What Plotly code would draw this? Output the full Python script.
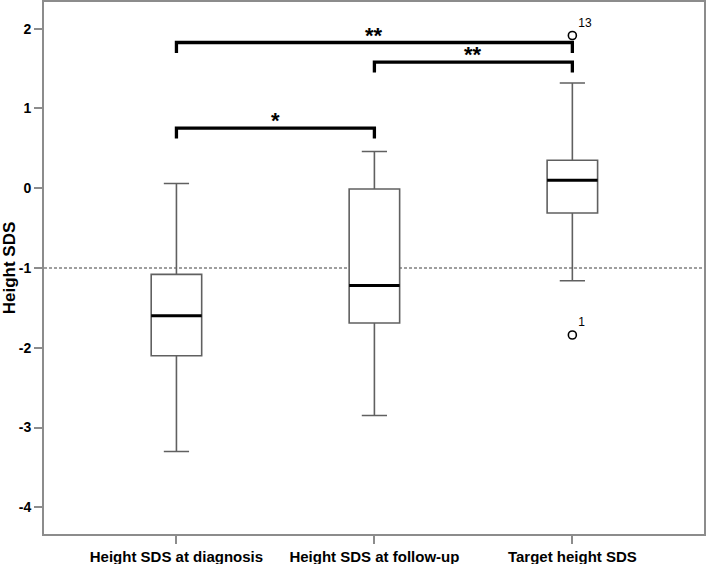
import plotly.graph_objects as go

categories = ["Height SDS at diagnosis", "Height SDS at follow-up", "Target height SDS"]
lower_whisker = [-3.30, -2.85, -1.16]
q1 = [-2.10, -1.69, -0.31]
median = [-1.60, -1.22, 0.10]
q3 = [-1.08, -0.01, 0.35]
upper_whisker = [0.06, 0.46, 1.32]

outlier_cat = [2, 2]
outlier_val = [1.915, -1.84]
outlier_lab = ["13", "1"]

ref_line = -1
bracket_from = [0, 0, 1]
bracket_to = [1, 2, 2]
bracket_y = [0.753, 1.827, 1.58]
bracket_lab = ["*", "**", "**"]

y_ticks = [2, 1, 0, -1, -2, -3, -4]

BOXW = 0.255
DROP = 0.13
FONT = "Liberation Sans, Arial, sans-serif"

fig = go.Figure()

for i in range(len(categories)):
    fig.add_trace(go.Box(
        x=[i], q1=[q1[i]], median=[median[i]], q3=[q3[i]],
        lowerfence=[lower_whisker[i]], upperfence=[upper_whisker[i]],
        width=BOXW, whiskerwidth=0.5, fillcolor="white",
        line=dict(color="#606060", width=1.6), boxpoints=False,
        showlegend=False, hoverinfo="skip"))

# medians drawn thicker and black
mx, my = [], []
for i in range(len(categories)):
    mx += [i - BOXW / 2, i + BOXW / 2, None]
    my += [median[i], median[i], None]
fig.add_trace(go.Scatter(x=mx, y=my, mode="lines",
                         line=dict(color="black", width=3), showlegend=False, hoverinfo="skip"))

# outliers
fig.add_trace(go.Scatter(x=outlier_cat, y=outlier_val, mode="markers+text",
                         marker=dict(symbol="circle-open", size=8, color="black", line=dict(width=1.6)),
                         text=outlier_lab, textposition="top right",
                         textfont=dict(family=FONT, size=12, color="#000000"),
                         showlegend=False, hoverinfo="skip"))

# significance brackets
bx, by = [], []
for a, b, yv in zip(bracket_from, bracket_to, bracket_y):
    bx += [a, a, b, b, None]
    by += [yv - DROP, yv, yv, yv - DROP, None]
fig.add_trace(go.Scatter(x=bx, y=by, mode="lines",
                         line=dict(color="black", width=3.3), showlegend=False, hoverinfo="skip"))
for a, b, yv, lab in zip(bracket_from, bracket_to, bracket_y, bracket_lab):
    fig.add_annotation(x=(a + b) / 2, y=yv, text="<b>%s</b>" % lab, showarrow=False,
                       yanchor="bottom", yshift=-7,
                       font=dict(family=FONT, size=22, color="black"))

fig.add_shape(type="line", xref="paper", x0=0, x1=1, y0=ref_line, y1=ref_line,
              line=dict(color="#808080", width=1.5, dash="3px,2px"), layer="below")

fig.update_layout(
    width=708, height=564,
    margin=dict(l=44, r=4, t=2, b=30, autoexpand=False),
    paper_bgcolor="white", plot_bgcolor="white",
    font=dict(family=FONT, color="black"),
)
fig.update_xaxes(range=[-0.669, 2.665], tickvals=list(range(len(categories))),
                 ticktext=["<b>%s</b>" % c for c in categories],
                 tickfont=dict(family=FONT, size=15, color="black"),
                 showline=True, linecolor="#8c8c8c", linewidth=2, mirror=True,
                 ticks="outside", ticklen=8, tickcolor="#8c8c8c", tickwidth=1.5,
                 showgrid=False, zeroline=False, automargin=False)
fig.update_yaxes(range=[-4.335, 2.335], tickvals=y_ticks,
                 ticktext=["<b>%d</b>" % t for t in y_ticks],
                 tickfont=dict(family=FONT, size=14, color="black"),
                 title=dict(text="<b>Height SDS</b>", standoff=9,
                            font=dict(family=FONT, size=17, color="black")),
                 showline=True, linecolor="#8c8c8c", linewidth=2, mirror=True,
                 ticks="outside", ticklen=8, tickcolor="#8c8c8c", tickwidth=1.5,
                 showgrid=False, zeroline=False, automargin=False)

fig.write_html("out.html", config={"displayModeBar": False},
               post_script="document.body.style.margin='0';document.body.style.overflow='hidden';")
